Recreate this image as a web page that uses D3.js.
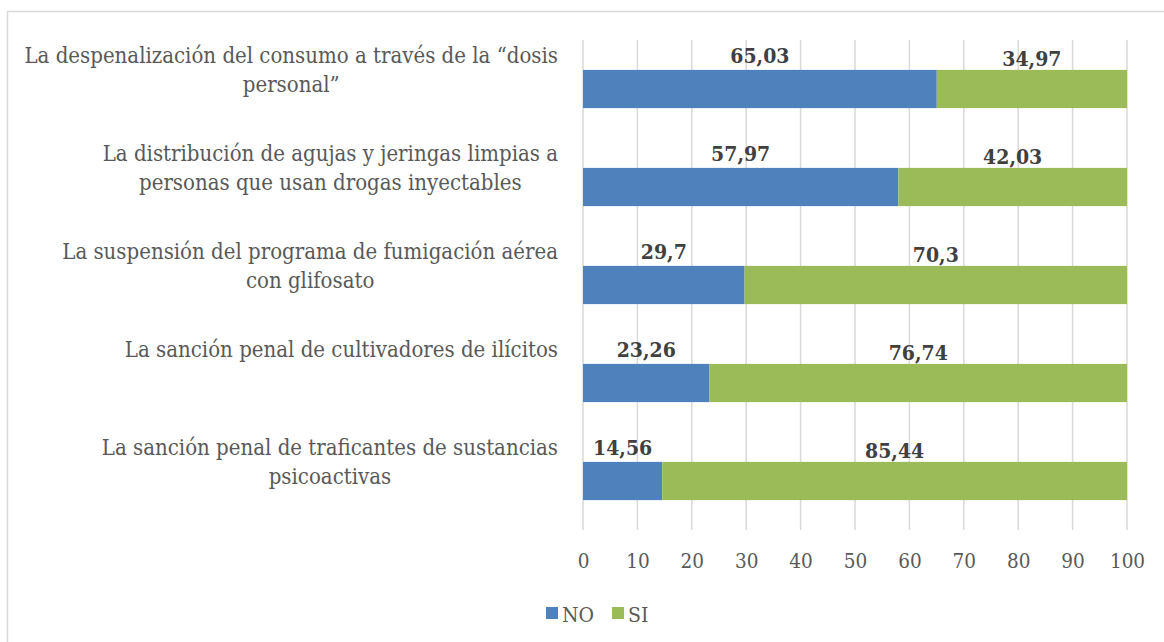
<!DOCTYPE html>
<html>
<head>
<meta charset="utf-8">
<script src="https://cdn.jsdelivr.net/npm/d3@7"></script>
<style>
  body { margin: 0; background: #fff; }
  text { font-family: "DejaVu Serif Condensed", "DejaVu Serif", serif; }
</style>
</head>
<body>
<div id="chart"></div>
<script>
  // categories, one array of lines per label (line breaks as in the original)
  const categories = [
    ["La despenalización del consumo a través de la “dosis", "personal”"],
    ["La distribución de agujas y jeringas limpias a", "personas que usan drogas inyectables"],
    ["La suspensión del programa de fumigación aérea", "con glifosato"],
    ["La sanción penal de cultivadores de ilícitos"],
    ["La sanción penal de traficantes de sustancias", "psicoactivas"]
  ];
  const noValues = [65.03, 57.97, 29.7, 23.26, 14.56];
  const siValues = [34.97, 42.03, 70.3, 76.74, 85.44];
  const noLabels = ["65,03", "57,97", "29,7", "23,26", "14,56"];
  const siLabels = ["34,97", "42,03", "70,3", "76,74", "85,44"];
  const ticks = [0, 10, 20, 30, 40, 50, 60, 70, 80, 90, 100];
  const seriesNames = ["NO", "SI"];
  const colors = ["#4F81BD", "#9BBB59"];

  const width = 1164, height = 642;
  const margin = {top: 40, right: 37, bottom: 112, left: 583};

  const svg = d3.select("#chart")
    .append("svg")
    .attr("width", width)
    .attr("height", height);

  // outer chart border
  svg.append("rect")
    .attr("x", 7.5).attr("y", 11.5)
    .attr("width", 1200).attr("height", 700)
    .attr("fill", "none")
    .attr("stroke", "#d9d9d9")
    .attr("stroke-width", 1.5);

  const x = d3.scaleLinear()
    .domain([0, 100])
    .range([margin.left, width - margin.right]);

  const y = d3.scaleBand()
    .domain(d3.range(categories.length))
    .range([margin.top, height - margin.bottom])
    .paddingInner(0.61)
    .paddingOuter(0.305);

  const step = y.step();

  // gridlines
  svg.append("g")
    .selectAll("line")
    .data(ticks)
    .join("line")
    .attr("x1", d => x(d)).attr("x2", d => x(d))
    .attr("y1", margin.top).attr("y2", height - margin.bottom)
    .attr("stroke", "#d9d9d9")
    .attr("stroke-width", 1.5);

  // x axis tick labels
  const xAxis = svg.append("g")
    .attr("transform", `translate(0,${height - margin.bottom})`)
    .call(d3.axisBottom(x).tickValues(ticks).tickSize(0).tickPadding(23));
  xAxis.select(".domain").remove();
  xAxis.selectAll("text")
    .attr("fill", "#595959")
    .style("font-size", "20.5px")
    .style("font-family", "DejaVu Serif Condensed, DejaVu Serif, serif");

  // stacked bars
  const stacks = [
    noValues.map((v, i) => ({i, x0: 0, x1: v, label: noLabels[i]})),
    siValues.map((v, i) => ({i, x0: noValues[i], x1: noValues[i] + v, label: siLabels[i]}))
  ];

  stacks.forEach((s, k) => {
    svg.append("g")
      .selectAll("rect")
      .data(s)
      .join("rect")
      .attr("x", d => x(d.x0))
      .attr("y", d => y(d.i))
      .attr("width", d => x(d.x1) - x(d.x0))
      .attr("height", y.bandwidth())
      .attr("fill", colors[k]);

    svg.append("g")
      .selectAll("text")
      .data(s)
      .join("text")
      .attr("x", d => (x(d.x0) + x(d.x1)) / 2)
      .attr("y", d => y(d.i) - 7 + (k === 1 ? 3 : 0))
      .attr("text-anchor", "middle")
      .attr("fill", "#404040")
      .style("font-size", "21px")
      .style("font-weight", "bold")
      .text(d => d.label);
  });

  // category labels: block right aligned to the axis, lines centered inside block
  const labelRight = 558;
  categories.forEach((lines, i) => {
    const g = svg.append("g");
    const top = y(i) + y.bandwidth() / 2 - step / 2 + 23;
    const texts = g.selectAll("text")
      .data(lines)
      .join("text")
      .attr("y", (d, j) => top + j * 29)
      .attr("fill", "#595959")
      .attr("text-anchor", "middle")
      .style("font-size", "22px")
      .text(d => d);
    let w = 0;
    texts.each(function() { w = Math.max(w, this.getComputedTextLength()); });
    texts.attr("x", labelRight - w / 2);
  });

  // legend
  const legend = svg.append("g").attr("transform", "translate(546,607)");
  let lx = 0;
  seriesNames.forEach((name, k) => {
    legend.append("rect")
      .attr("x", lx).attr("y", 0)
      .attr("width", 12).attr("height", 12)
      .attr("fill", colors[k]);
    const t = legend.append("text")
      .attr("x", lx + 16).attr("y", 15)
      .attr("fill", "#595959")
      .style("font-size", "21px")
      .text(name);
    lx += 16 + t.node().getComputedTextLength() + 18;
  });
</script>
</body>
</html>
